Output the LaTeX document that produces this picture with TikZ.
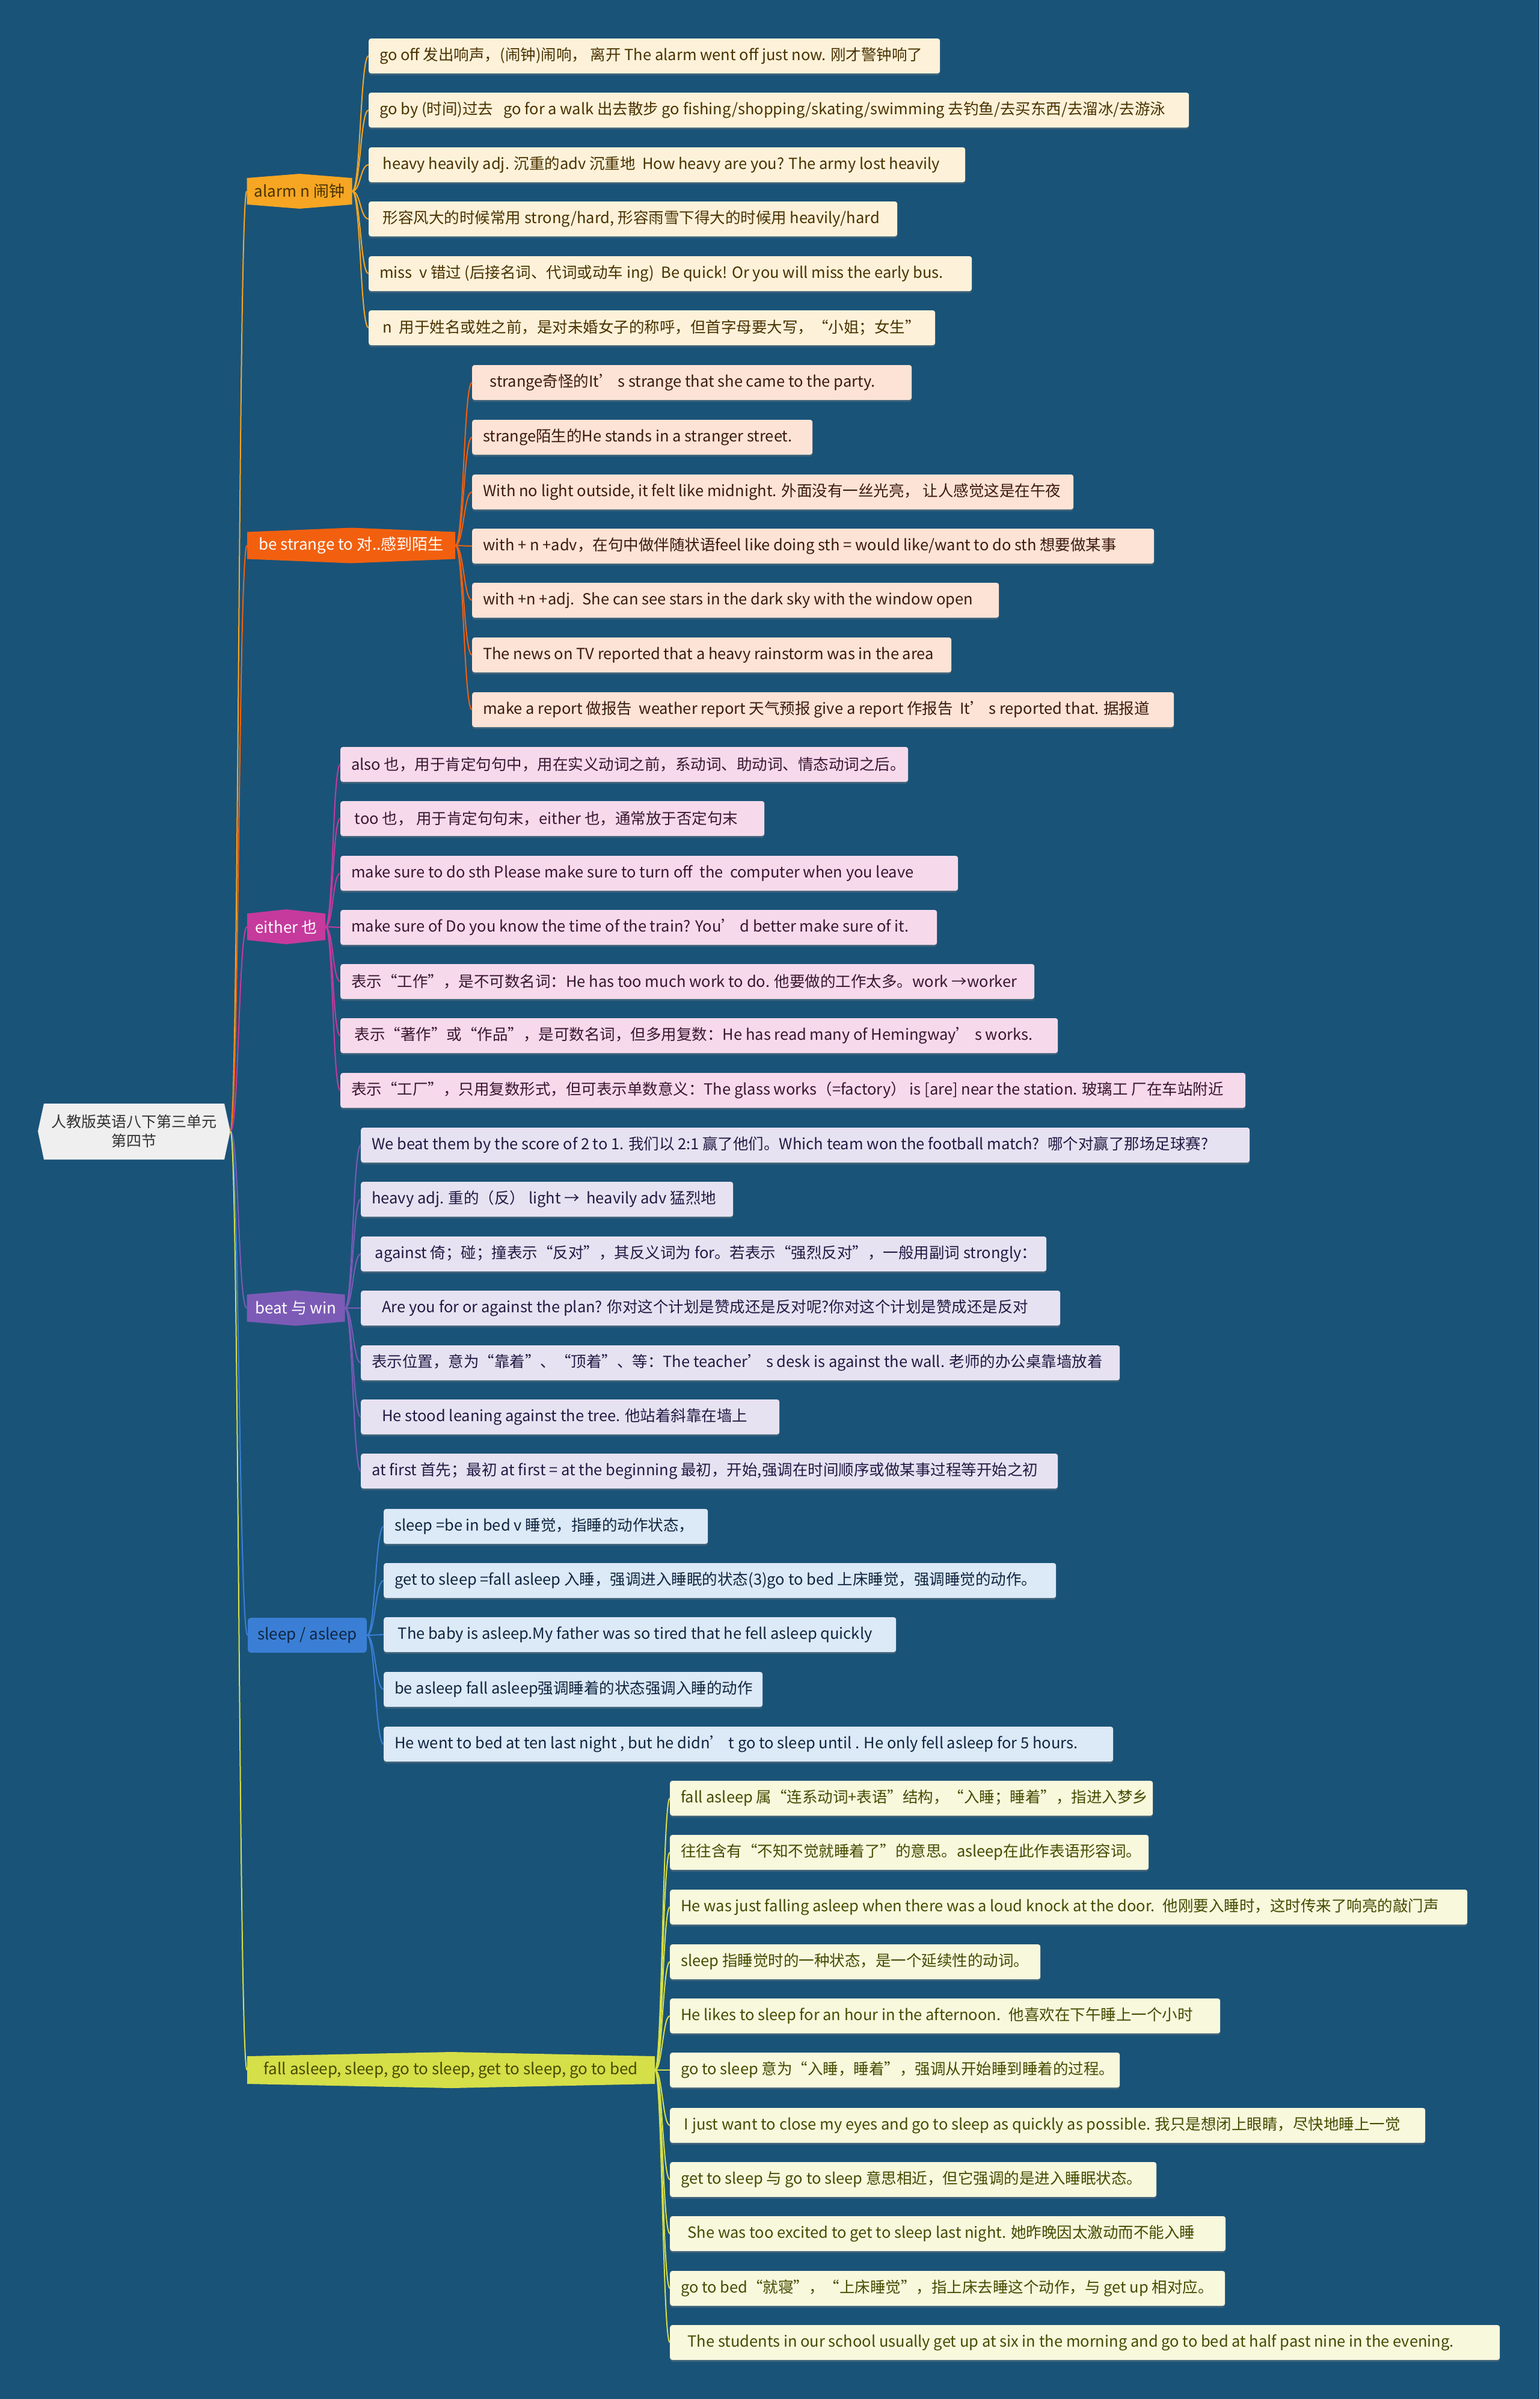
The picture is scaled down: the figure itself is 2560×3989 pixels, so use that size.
\documentclass[tikz,border=0pt]{standalone}
\usepackage{fontspec}
\setmainfont{Noto Sans CJK SC}
\usetikzlibrary{shadows}
\definecolor{bg}{HTML}{1A5378}
\definecolor{cA}{HTML}{F6A623}\definecolor{cB}{HTML}{F2600F}\definecolor{cC}{HTML}{C53A9C}
\definecolor{cD}{HTML}{7C5BB6}\definecolor{cE}{HTML}{3A7FD5}\definecolor{cF}{HTML}{D5DF48}
\definecolor{lA}{HTML}{FDF2D9}\definecolor{lB}{HTML}{FDE3D5}\definecolor{lC}{HTML}{F6DAEB}
\definecolor{lD}{HTML}{E7E2F1}\definecolor{lE}{HTML}{DCE9F6}\definecolor{lF}{HTML}{F8F8DD}
\definecolor{tA}{HTML}{4A3200}\definecolor{tB}{HTML}{3C1A0C}\definecolor{tC}{HTML}{3A1530}
\definecolor{tD}{HTML}{221A44}\definecolor{tE}{HTML}{0F2541}\definecolor{tF}{HTML}{464B00}
\definecolor{rootfill}{HTML}{EFEFEF}
\newcommand\hexfill[5]{%
  \fill[#5] ({#1-#3/2},{#2-#4/2+7}) -- (#1,{#2-#4/2}) -- ({#1+#3/2},{#2-#4/2+7}) -- ({#1+#3/2},{#2+#4/2-7}) -- (#1,{#2+#4/2}) -- ({#1-#3/2},{#2+#4/2-7}) -- cycle;}
\newcommand\leafnode[6]{%
  \node[#1, minimum width=#5pt] (#2) at (#3,#4) {\makebox[\dimexpr#5pt-36pt\relax][l]{#6}};}
\begin{document}
\begin{tikzpicture}[x=1pt,y=-1pt,
  leaf/.style={rectangle, rounded corners=4pt, minimum height=58pt, inner xsep=4pt, inner ysep=0pt, anchor=west, font=\fontsize{25.5}{28}\selectfont, drop shadow={shadow xshift=0pt, shadow yshift=-3pt, opacity=0.35}},
  lfA/.style={leaf, fill=lA, text=tA}, lfB/.style={leaf, fill=lB, text=tB},
  lfC/.style={leaf, fill=lC, text=tC}, lfD/.style={leaf, fill=lD, text=tD},
  lfE/.style={leaf, fill=lE, text=tE}, lfF/.style={leaf, fill=lF, text=tF},
  br/.style={rectangle, inner sep=0pt, font=\fontsize{26}{30}\selectfont},
  con/.style={line width=2pt}]
\fill[bg] (0,0) rectangle (2560,3989);
\useasboundingbox (0,0) rectangle (2560,3989);

% root
\fill[rootfill] (63,1881) -- (73,1835) -- (373,1835) -- (383,1881) -- (373,1928) -- (73,1928) -- cycle;
\node[br, text=black!80, align=center, minimum width=320pt, minimum height=93pt, font=\fontsize{25}{32}\selectfont] (root) at (223,1881) {人教版英语八下第三单元\\第四节};

% branches
\hexfill{498}{318}{175}{58}{cA}
\node[br, text=tA, minimum width=175pt, minimum height=58pt] (alarm) at (498,318) {alarm n 闹钟};
\hexfill{584}{907}{346}{59}{cB}
\node[br, text=white, minimum width=346pt, minimum height=59pt] (strange) at (584,907) {be strange to 对..感到陌生};
\hexfill{476}{1541}{130}{58}{cC}
\node[br, text=white, minimum width=130pt, minimum height=58pt] (either) at (476,1541) {either 也};
\hexfill{492}{2175}{163}{59}{cD}
\node[br, text=white, minimum width=163pt, minimum height=59pt] (beat) at (492,2175) {beat 与 win};
\fill[cE, rounded corners=5pt] (412,2690) rectangle (610,2748);
\node[br, text=tE, minimum width=198pt, minimum height=58pt] (sleep) at (511,2719) {sleep / asleep};
\hexfill{750}{3442}{678}{60}{cF}
\node[br, text=tF, minimum width=678pt, minimum height=60pt] (fall) at (750,3442) {fall asleep, sleep, go to sleep, get to sleep, go to bed};

% alarm leaves
\leafnode{lfA}{a1}{613}{93}{950}{go off 发出响声，(闹钟)闹响， 离开 The alarm went off just now. 刚才警钟响了}
\leafnode{lfA}{a2}{613}{183}{1364}{go by (时间)过去 \ \ go for a walk 出去散步 go fishing/shopping/skating/swimming 去钓鱼/去买东西/去溜冰/去游泳}
\leafnode{lfA}{a3}{613}{274}{992}{\ heavy heavily adj. 沉重的adv 沉重地 \ How heavy are you? The army lost heavily}
\leafnode{lfA}{a4}{613}{364}{879}{\ 形容风大的时候常用 strong/hard, 形容雨雪下得大的时候用 heavily/hard}
\leafnode{lfA}{a5}{613}{455}{1003}{miss \ v 错过 (后接名词、代词或动车 ing) \ Be quick! Or you will miss the early bus.}
\leafnode{lfA}{a6}{613}{545}{942}{\ n \ 用于姓名或姓之前，是对未婚女子的称呼，但首字母要大写，“小姐；女生”}

% strange leaves
\leafnode{lfB}{b1}{785}{636}{731}{\ \ strange奇怪的It’ s strange that she came to the party.}
\leafnode{lfB}{b2}{785}{727}{566}{strange陌生的He stands in a stranger street.}
\leafnode{lfB}{b3}{785}{818}{1000}{With no light outside, it felt like midnight. 外面没有一丝光亮， 让人感觉这是在午夜}
\leafnode{lfB}{b4}{785}{908}{1134}{with + n +adv，在句中做伴随状语feel like doing sth = would like/want to do sth 想要做某事}
\leafnode{lfB}{b5}{785}{998}{876}{with +n +adj. \ She can see stars in the dark sky with the window open}
\leafnode{lfB}{b6}{785}{1089}{797}{The news on TV reported that a heavy rainstorm was in the area}
\leafnode{lfB}{b7}{785}{1180}{1167}{make a report 做报告 \ weather report 天气预报 give a report 作报告 \ It’ s reported that. 据报道}

% either leaves
\leafnode{lfC}{c1}{566}{1271}{944}{also 也，用于肯定句句中，用在实义动词之前，系动词、助动词、情态动词之后。}
\leafnode{lfC}{c2}{566}{1361}{705}{\ too 也， 用于肯定句句末，either 也，通常放于否定句末}
\leafnode{lfC}{c3}{566}{1452}{1027}{make sure to do sth Please make sure to turn off \ the \ computer when you leave}
\leafnode{lfC}{c4}{566}{1542}{992}{make sure of Do you know the time of the train? You’ d better make sure of it.}
\leafnode{lfC}{c5}{566}{1632}{1154}{表示“工作”，是不可数名词：He has too much work to do. 他要做的工作太多。work →worker}
\leafnode{lfC}{c6}{566}{1722}{1193}{\ 表示“著作”或“作品”，是可数名词，但多用复数：He has read many of Hemingway’ s works.}
\leafnode{lfC}{c7}{566}{1813}{1505}{表示“工厂”，只用复数形式，但可表示单数意义：The glass works（=factory） is [are] near the station. 玻璃工 厂在车站附近}

% beat leaves
\leafnode{lfD}{d1}{600}{1904}{1478}{We beat them by the score of 2 to 1. 我们以 2:1 赢了他们。Which team won the football match? \ 哪个对赢了那场足球赛?}
\leafnode{lfD}{d2}{600}{1994}{619}{heavy adj. 重的（反） light → \ heavily adv 猛烈地}
\leafnode{lfD}{d3}{600}{2085}{1140}{\ against 倚；碰；撞表示“反对”，其反义词为 for。若表示“强烈反对”，一般用副词 strongly：}
\leafnode{lfD}{d4}{600}{2175}{1163}{\ \ \ Are you for or against the plan? 你对这个计划是赞成还是反对呢?你对这个计划是赞成还是反对}
\leafnode{lfD}{d5}{600}{2266}{1262}{表示位置，意为“靠着”、“顶着”、等：The teacher’ s desk is against the wall. 老师的办公桌靠墙放着}
\leafnode{lfD}{d6}{600}{2356}{696}{\ \ \ He stood leaning against the tree. 他站着斜靠在墙上}
\leafnode{lfD}{d7}{600}{2446}{1159}{at first 首先；最初 at first = at the beginning 最初，开始,强调在时间顺序或做某事过程等开始之初}

% sleep leaves
\leafnode{lfE}{e1}{638}{2538}{539}{sleep =be in bed v 睡觉，指睡的动作状态，}
\leafnode{lfE}{e2}{638}{2628}{1118}{get to sleep =fall asleep 入睡，强调进入睡眠的状态(3)go to bed 上床睡觉，强调睡觉的动作。}
\leafnode{lfE}{e3}{638}{2718}{852}{\ The baby is asleep.My father was so tired that he fell asleep quickly}
\leafnode{lfE}{e4}{638}{2809}{630}{be asleep fall asleep强调睡着的状态强调入睡的动作}
\leafnode{lfE}{e5}{638}{2900}{1213}{He went to bed at ten last night , but he didn’ t go to sleep until . He only fell asleep for 5 hours.}

% fall leaves
\leafnode{lfF}{f1}{1114}{2990}{803}{fall asleep 属“连系动词+表语”结构，“入睡；睡着”，指进入梦乡}
\leafnode{lfF}{f2}{1114}{3080}{796}{往往含有“不知不觉就睡着了”的意思。asleep在此作表语形容词。}
\leafnode{lfF}{f3}{1114}{3171}{1326}{He was just falling asleep when there was a loud knock at the door. \ 他刚要入睡时，这时传来了响亮的敲门声}
\leafnode{lfF}{f4}{1114}{3262}{616}{sleep 指睡觉时的一种状态，是一个延续性的动词。}
\leafnode{lfF}{f5}{1114}{3352}{915}{He likes to sleep for an hour in the afternoon. \ 他喜欢在下午睡上一个小时}
\leafnode{lfF}{f6}{1114}{3442}{748}{go to sleep 意为“入睡，睡着”，强调从开始睡到睡着的过程。}
\leafnode{lfF}{f7}{1114}{3534}{1256}{\ I just want to close my eyes and go to sleep as quickly as possible. 我只是想闭上眼睛，尽快地睡上一觉}
\leafnode{lfF}{f8}{1114}{3624}{809}{get to sleep 与 go to sleep 意思相近，但它强调的是进入睡眠状态。}
\leafnode{lfF}{f9}{1114}{3714}{924}{\ \ She was too excited to get to sleep last night. 她昨晚因太激动而不能入睡}
\leafnode{lfF}{f10}{1114}{3805}{923}{go to bed“就寝”，“上床睡觉”，指上床去睡这个动作，与 get up 相对应。}
\leafnode{lfF}{f11}{1114}{3895}{1380}{\ \ The students in our school usually get up at six in the morning and go to bed at half past nine in the evening.}

% connectors root -> branches
\foreach \b/\c in {alarm/cA, strange/cB, either/cC, beat/cD, sleep/cE, fall/cF}
  \draw[con, \c] (root.east) .. controls +(14,0) and +(-14,0) .. (\b.west);
% branch -> leaves
\foreach \i in {1,...,6} \draw[con, cA] (alarm.east) .. controls +(14,0) and +(-14,0) .. (a\i.west);
\foreach \i in {1,...,7} \draw[con, cB] (strange.east) .. controls +(14,0) and +(-14,0) .. (b\i.west);
\foreach \i in {1,...,7} \draw[con, cC] (either.east) .. controls +(13,0) and +(-13,0) .. (c\i.west);
\foreach \i in {1,...,7} \draw[con, cD] (beat.east) .. controls +(13,0) and +(-13,0) .. (d\i.west);
\foreach \i in {1,...,5} \draw[con, cE] (sleep.east) .. controls +(14,0) and +(-14,0) .. (e\i.west);
\foreach \i in {1,...,11} \draw[con, cF] (fall.east) .. controls +(12,0) and +(-12,0) .. (f\i.west);
\end{tikzpicture}
\end{document}
